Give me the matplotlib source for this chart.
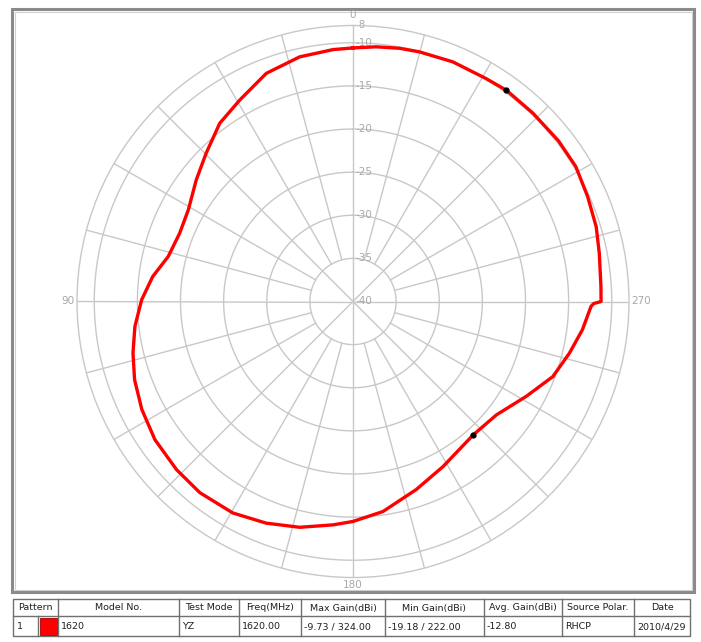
import numpy as np
import matplotlib
matplotlib.use("Agg")
import matplotlib.pyplot as plt
from matplotlib.patches import Rectangle

# ---- data ----
angles_deg = [0, 4.5, 12.3, 20.8, 29.3, 36.8, 44.7, 52.2, 60.9, 68.5, 76.3, 82.9,
              89.5, 96.5, 103.2, 109.7, 117.1, 124.9, 133.6, 141.3, 150.4, 158.6,
              166.7, 174.9, 180, 188.1, 198.6, 208.6, 222, 231.7, 241.3, 249.4,
              256.6, 263, 268.8, 269.5, 270, 273.5, 281.1, 287.1, 294.1, 301.2,
              308, 316.3, 324, 329.2, 337.4, 345.1, 349.6, 354.8, 360]
gain_dbi = [-10.6, -10.7, -10.97, -11.7, -13.2, -14.2, -15.8, -17.0, -18.15, -18.4,
            -17.95, -16.6, -15.5, -14.55, -13.8, -13.1, -12.5, -12.0, -11.74, -11.6,
            -11.8, -12.4, -13.1, -14.0, -14.5, -15.4, -17.0, -18.2, -19.18, -18.8,
            -17.1, -15.25, -14.2, -13.2, -12.4, -12.1, -11.24, -11.2, -10.9, -10.5,
            -10.2, -9.8, -9.76, -9.8, -9.73, -9.9, -9.9, -10.05, -10.15, -10.35, -10.6]
max_point = (324.0, -9.73)
min_point = (222.0, -19.18)
r_min, r_max = -40, -8
ring_values = [-35, -30, -25, -20, -15, -10]
ring_labels = ["-35", "-30", "-25", "-20", "-15", "-10"]
angle_labels = {0: "0", 90: "90", 180: "180", 270: "270"}

headers = ["Pattern", "Model No.", "Test Mode", "Freq(MHz)", "Max Gain(dBi)",
           "Min Gain(dBi)", "Avg. Gain(dBi)", "Source Polar.", "Date"]
row_values = ["1", "1620", "YZ", "1620.00", "-9.73 / 324.00", "-19.18 / 222.00",
              "-12.80", "RHCP", "2010/4/29"]

W, H = 701, 642
fig = plt.figure(figsize=(W / 100, H / 100), dpi=100)
plt.rcParams['font.family'] = ['DejaVu Sans']

# overlay axes in pixel coords
ov = fig.add_axes([0, 0, 1, 1])
ov.set_xlim(0, W)
ov.set_ylim(H, 0)
ov.axis('off')

# frame
ov.add_patch(Rectangle((12, 9), 682, 583, fill=False, edgecolor='#8a8a8a', lw=2.2))
ov.add_patch(Rectangle((14.5, 11.5), 677, 578, fill=False, edgecolor='#d0d0d0', lw=0.8))

# polar axes
cx, cy, R = 353, 301.5, 276
ax = fig.add_axes([(cx - R) / W, (H - cy - R) / H, 2 * R / W, 2 * R / H], projection='polar')
ax.set_theta_zero_location('N')
ax.set_theta_direction(1)
ax.set_ylim(r_min, r_max)
ax.grid(False)
ax.set_xticks([])
ax.set_yticks([])
ax.spines['polar'].set_color('#c8c8c8')
ax.spines['polar'].set_linewidth(1.0)
ax.patch.set_alpha(0)

gc = '#c8c8c8'
tt = np.linspace(0, 2 * np.pi, 400)
for rv in ring_values:
    ax.plot(tt, np.full_like(tt, rv), color=gc, lw=1.0, zorder=1)
for a in range(0, 360, 15):
    start = r_min if a % 45 == 0 else -35
    ax.plot([np.deg2rad(a)] * 2, [start, r_max], color=gc, lw=1.0, zorder=1)

lc = '#a8a8a8'
for rv, lab in zip(ring_values + [r_max, r_min], ring_labels + ["-8", "-40"]):
    ax.annotate(lab, xy=(0, rv), xytext=(1.5, 0), textcoords='offset points',
                ha='left', va='center', fontsize=7.5, color=lc, zorder=2,
                annotation_clip=False)

# angle labels in pixel coords
ov.text(cx, 15, angle_labels[0], ha='center', va='center', fontsize=7.5, color=lc)
ov.text(74, cy, angle_labels[90], ha='right', va='center', fontsize=7.5, color=lc)
ov.text(631, cy, angle_labels[270], ha='left', va='center', fontsize=7.5, color=lc)
ov.text(cx, 585, angle_labels[180], ha='center', va='center', fontsize=7.5, color=lc)

# data curve
th = np.deg2rad(angles_deg)
ax.plot(th, gain_dbi, color='#ff0000', lw=2.4, zorder=5, solid_joinstyle='round')
ax.plot([np.deg2rad(max_point[0]), np.deg2rad(min_point[0])],
        [max_point[1], min_point[1]], 'o', color='black', ms=3.5, zorder=6)

# table
col_edges = [13, 58, 179, 239, 301, 385, 484, 562, 634, 690]
y0, y1, y2 = 599, 616, 636
ov.add_patch(Rectangle((col_edges[0], y0), col_edges[-1] - col_edges[0], y2 - y0,
                       fill=False, edgecolor='#707070', lw=1.0))
for xe in col_edges[1:-1]:
    ov.plot([xe, xe], [y0, y2], color='#707070', lw=1.0)
ov.plot([col_edges[0], col_edges[-1]], [y1, y1], color='#707070', lw=1.0)
fs = 6.8
for i, h in enumerate(headers):
    ov.text((col_edges[i] + col_edges[i + 1]) / 2, (y0 + y1) / 2 + 0.5, h,
            ha='center', va='center', fontsize=fs, color='#202020')
# first column: number + color swatch
ov.plot([38, 38], [y1, y2], color='#707070', lw=1.0)
ov.add_patch(Rectangle((39.5, y1 + 1.5), 17.5, y2 - y1 - 2.5, facecolor='#ff0000',
                       edgecolor='#a00000', lw=0.6))
ov.text(17, (y1 + y2) / 2 + 0.5, row_values[0], ha='left', va='center', fontsize=fs, color='#202020')
for i in range(1, len(headers)):
    ov.text(col_edges[i] + 3, (y1 + y2) / 2 + 0.5, row_values[i], ha='left', va='center',
            fontsize=fs, color='#202020', clip_on=True)

fig.savefig('out.png', dpi=100)
